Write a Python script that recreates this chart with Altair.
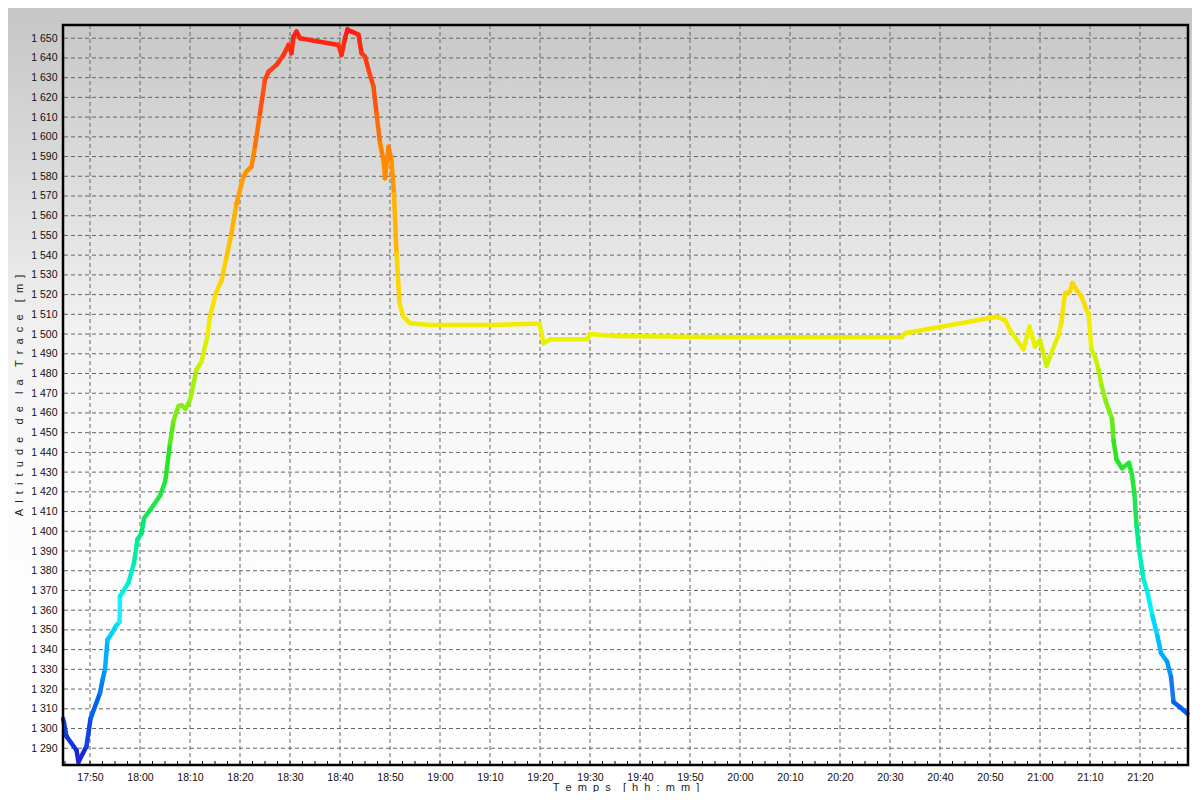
import altair as alt
import pandas as pd

# minutes after 17:00 and altitude (m)
minutes = [44.6, 44.8, 45.3, 47.3, 47.7, 49.3, 50.1, 52.0, 52.5, 53.0, 53.5, 54.3, 55.2, 55.9,
           56.0, 57.7, 58.8, 59.5, 60.3, 60.8, 62.1, 64.0, 65.0, 65.2, 66.0, 66.7, 67.7, 68.3,
           69.1, 70.0, 71.3, 72.3, 73.5, 74.0, 75.2, 76.3, 77.3, 78.3, 79.3, 80.7, 81.3, 82.3,
           83.0, 84.0, 85.0, 85.7, 87.3, 88.7, 89.7, 90.3, 90.7, 91.3, 92.0, 99.7, 100.3, 101.0,
           101.5, 102.3, 102.7, 103.7, 104.3, 105.0, 105.7, 106.7, 107.3, 108.0, 108.7, 109.0,
           109.7, 110.3, 110.8, 111.3, 111.9, 112.7, 114.0, 118.0, 130.0, 139.9, 140.7, 142.2,
           149.5, 149.9, 154.9, 179.4, 212.3, 213.0, 231.3, 233.0, 234.0, 236.7, 237.9, 239.0,
           240.0, 241.3, 242.0, 243.7, 244.3, 245.0, 246.0, 246.5, 247.3, 248.3, 249.3, 249.7,
           250.3, 251.0, 251.7, 252.3, 253.1, 254.4, 254.7, 255.3, 256.4, 257.8, 258.4, 258.9,
           259.3, 259.8, 260.7, 261.5, 262.5, 263.5, 264.2, 265.4, 266.2, 266.7, 267.9, 269.5]
altitude = [1305, 1303, 1296, 1289, 1283, 1291, 1305, 1318, 1324.6, 1330, 1345, 1348, 1352, 1354,
            1367, 1374, 1384, 1396, 1399, 1406.6, 1411, 1418, 1425, 1428, 1444.6, 1456, 1463.5, 1464,
            1462, 1466.6, 1482, 1486, 1499, 1509, 1521, 1527, 1539, 1551, 1566, 1580, 1582.4, 1585,
            1595, 1612, 1629, 1633, 1636.5, 1641.5, 1646.6, 1642.4, 1650.8, 1653.3, 1650, 1646.6, 1641.5, 1650,
            1654.5, 1653.3, 1653, 1651.7, 1642.4, 1640.7, 1634, 1625.5, 1612, 1597, 1588, 1579,
            1595, 1588, 1571, 1541, 1515.6, 1508.8, 1505.5, 1504.6, 1504.6, 1505.3, 1495.4, 1497.4,
            1497.4, 1500, 1499, 1498.4, 1498.4, 1500.4, 1508.8, 1507.1, 1502, 1492.3, 1503.8, 1493.7,
            1497, 1484, 1488.6, 1499.5, 1506.3, 1520.7, 1521.5, 1525.8, 1522.4, 1519, 1512.2, 1510.5,
            1492, 1488.6, 1482, 1474, 1466.3, 1457, 1446, 1436.4, 1432, 1434.7, 1428.7, 1418.5,
            1403, 1391, 1375.8, 1369, 1357, 1346.8, 1338.3, 1334, 1326.3, 1313.5, 1311, 1307.5]

x_ticks = [50, 60, 70, 80, 90, 100, 110, 120, 130, 140, 150, 160, 170, 180, 190, 200,
           210, 220, 230, 240, 250, 260]
y_ticks = [1290, 1300, 1310, 1320, 1330, 1340, 1350, 1360, 1370, 1380, 1390, 1400, 1410,
           1420, 1430, 1440, 1450, 1460, 1470, 1480, 1490, 1500, 1510, 1520, 1530, 1540,
           1550, 1560, 1570, 1580, 1590, 1600, 1610, 1620, 1630, 1640, 1650]
minor_ticks = [45 + 2.5 * i for i in range(90)]

color_domain = [1283, 1300, 1320, 1340, 1360, 1385, 1410, 1440, 1470, 1500, 1540, 1580, 1620, 1655]
color_range = ["#1a1ecf", "#1446e6", "#1478f0", "#14b4ff", "#1ef0ff", "#14f0b4", "#1ee650",
               "#28e61e", "#96f014", "#f0f000", "#ffc800", "#ff9600", "#ff5014", "#ff1414"]

W, H = 1125, 740
PAD = {"left": 55, "top": 17, "right": 4, "bottom": 27}

seg = pd.DataFrame({
    "t": minutes[:-1], "a": altitude[:-1],
    "t2": minutes[1:], "a2": altitude[1:],
})
seg["mid"] = (seg["a"] + seg["a2"]) / 2

xscale = alt.Scale(domain=[44.6, 269.6], nice=False, zero=False)
yscale = alt.Scale(domain=[1281.5, 1656.7], nice=False, zero=False)

one = pd.DataFrame({"k": [0]})
FONT = "Liberation Sans"

nb = "\u00a0"
sp = nb * 2
wsp = nb * 4
x_title = sp.join("Temps") + wsp + sp.join("[hh:mm]")
y_title = wsp.join(sp.join(w) for w in ["Altitude", "de", "la", "Trace", "[m]"])

ax_x = alt.Axis(
    values=x_ticks, grid=False, domain=False, ticks=False, zindex=1,
    labelExpr="(17 + floor(datum.value / 60)) + ':' + (datum.value % 60 < 10 ? '0' : '') + (datum.value % 60)",
    labelFont=FONT, labelFontSize=10.5, labelColor="#111111", labelPadding=7,
    title=x_title, titleFont=FONT, titleFontSize=11, titleFontWeight="normal",
    titleColor="#222222", titleY=27, titleBaseline="bottom")
ax_y = alt.Axis(
    values=y_ticks, grid=False, domain=False, ticks=False, zindex=1,
    labelExpr="replace(format(datum.value, ','), ',', ' ')",
    labelFont=FONT, labelFontSize=10.5, labelColor="#111111", labelPadding=6,
    title=y_title, titleFont=FONT, titleFontSize=11, titleFontWeight="normal",
    titleColor="#222222", titleX=-44, titleY=H / 2, titleAngle=270,
    titleAlign="center", titleBaseline="middle")

grad = alt.LinearGradient(
    gradient="linear", x1=0, x2=0, y1=0, y2=1,
    stops=[alt.GradientStop(offset=0, color="#c6c6c6"),
           alt.GradientStop(offset=0.22, color="#dcdcdc"),
           alt.GradientStop(offset=0.42, color="#f2f2f2"),
           alt.GradientStop(offset=0.62, color="#fcfcfc"),
           alt.GradientStop(offset=1, color="#ffffff")])

bg = alt.Chart(one).mark_rect(color=grad).encode(
    x=alt.value(-PAD["left"]), x2=alt.value(W + PAD["right"]),
    y=alt.value(-PAD["top"]), y2=alt.value(H + PAD["bottom"]))

gridx = alt.Chart(pd.DataFrame({"v": x_ticks})).mark_rule(
    color="#666666", strokeDash=[4, 3], strokeWidth=1).encode(
    x=alt.X("v:Q", scale=xscale, axis=ax_x))

gridy = alt.Chart(pd.DataFrame({"v": y_ticks})).mark_rule(
    color="#666666", strokeDash=[4, 3], strokeWidth=1).encode(
    y=alt.Y("v:Q", scale=yscale, axis=ax_y))

minor = alt.Chart(pd.DataFrame({"v": minor_ticks})).mark_rule(
    color="#000000", strokeWidth=1).encode(
    x=alt.X("v:Q", scale=xscale, axis=ax_x),
    y=alt.value(H - 4), y2=alt.value(H))

line = alt.Chart(seg).mark_rule(strokeWidth=4.5, strokeCap="round").encode(
    x=alt.X("t:Q", scale=xscale, axis=ax_x),
    x2="t2:Q",
    y=alt.Y("a:Q", scale=yscale, axis=ax_y),
    y2="a2:Q",
    color=alt.Color("mid:Q", scale=alt.Scale(domain=color_domain, range=color_range), legend=None),
)

frame = alt.Chart(one).mark_rect(filled=False, stroke="#000000", strokeWidth=2.5).encode(
    x=alt.value(0), x2=alt.value(W), y=alt.value(0), y2=alt.value(H))

chart = alt.layer(bg, gridx, gridy, minor, line, frame).properties(
    width=W, height=H, padding=PAD,
    autosize=alt.AutoSizeParams(type="none"),
    background="#ffffff",
).configure_view(stroke=None)

chart.save("out.html", embed_options={"renderer": "svg", "actions": False})
